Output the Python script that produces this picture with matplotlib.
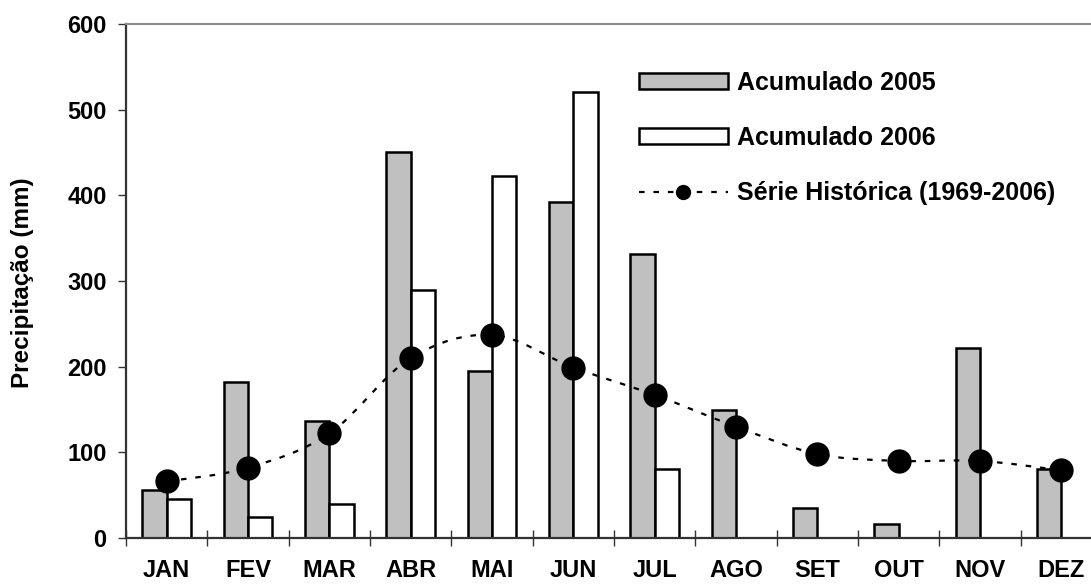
import matplotlib.pyplot as plt
import numpy as np
from matplotlib.lines import Line2D
from matplotlib.patches import Patch, PathPatch
from matplotlib.path import Path

plt.rcParams['font.family'] = ['Liberation Sans', 'DejaVu Sans']
plt.rcParams['font.weight'] = 'bold'

MONTHS = ['JAN', 'FEV', 'MAR', 'ABR', 'MAI', 'JUN',
          'JUL', 'AGO', 'SET', 'OUT', 'NOV', 'DEZ']
ACUM_2005 = [56, 182, 136, 451, 195, 392, 331, 150, 35, 16, 222, 80]
ACUM_2006 = [45, 24, 40, 289, 422, 521, 80, np.nan, np.nan, np.nan, np.nan, np.nan]
HISTORICA = [66, 82, 122, 210, 237, 199, 167, 130, 98, 90, 90, 79]
Y_TICKS = [0, 100, 200, 300, 400, 500, 600]


def smooth_path(xs: np.ndarray, ys: np.ndarray) -> Path:
    # cubic bezier through every point (catmull-rom style control points)
    pts = np.column_stack([xs, ys]).astype(float)
    padded = np.vstack([pts[0], pts, pts[-1]])
    verts = [pts[0]]
    codes = [Path.MOVETO]
    for i in range(len(pts) - 1):
        p0, p1, p2, p3 = padded[i], padded[i + 1], padded[i + 2], padded[i + 3]
        c1 = p1 + (p2 - p0) / 6.0
        c2 = p2 - (p3 - p1) / 6.0
        verts.extend([c1, c2, p2])
        codes.extend([Path.CURVE4] * 3)
    return Path(verts, codes)


W, H = 1091, 586
fig = plt.figure(figsize=(W / 100, H / 100), dpi=100)
ax = fig.add_axes([126 / W, 48 / H, (1102 - 126) / W, (538 - 24) / H])

x = np.arange(len(MONTHS))
bar_w = 0.3
ax.bar(x - bar_w / 2, ACUM_2005, bar_w, color='#c0c0c0',
       edgecolor='black', linewidth=1.8, zorder=2)
ax.bar(x + bar_w / 2, ACUM_2006, bar_w, color='white',
       edgecolor='black', linewidth=1.8, zorder=2)

dash = (0, (2.5, 4))
curve = PathPatch(smooth_path(x, HISTORICA), fill=False, edgecolor='black',
                  linewidth=1.6, linestyle=dash, zorder=3)
ax.add_patch(curve)
ax.plot(x, HISTORICA, 'o', color='black', markersize=16.5, zorder=4)

ax.set_xlim(-0.5, 11.5)
ax.set_ylim(0, 600)

ax.set_yticks(Y_TICKS)
ax.tick_params(axis='y', direction='out', length=6, width=1,
               color='#333333', labelsize=17, pad=8)

ax.set_xticks(x)
ax.set_xticklabels(MONTHS)
ax.set_xticks(np.arange(-0.5, 12, 1), minor=True)
ax.tick_params(axis='x', which='major', length=0, labelsize=17, pad=15)
ax.tick_params(axis='x', which='minor', direction='inout', length=11,
               width=1, color='#333333')

for lbl in ax.get_xticklabels() + ax.get_yticklabels():
    lbl.set_fontweight('bold')

ax.spines['right'].set_visible(False)
ax.spines['top'].set_color('#8c8c8c')
ax.spines['top'].set_linewidth(1.5)
for side in ('left', 'bottom'):
    ax.spines[side].set_color('#333333')
    ax.spines[side].set_linewidth(1.6)

fig.text(23 / W, 1 - 283 / H, 'Precipitação (mm)', rotation=90,
         ha='center', va='center', fontsize=17.5, fontweight='bold')

handles = [
    Patch(facecolor='#c0c0c0', edgecolor='black', linewidth=1.8),
    Patch(facecolor='white', edgecolor='black', linewidth=1.8),
    Line2D([], [], color='black', linewidth=1.6, linestyle=dash,
           marker='o', markersize=10),
]
labels = ['Acumulado 2005', 'Acumulado 2006', 'Série Histórica (1969-2006)']
fig.legend(handles, labels, loc='upper left',
           bbox_to_anchor=(639 / W, 1 - 71 / H), frameon=False,
           prop={'size': 18, 'weight': 'bold'}, handlelength=3.55,
           handleheight=0.6, handletextpad=0.35, labelspacing=1.24,
           borderpad=0, borderaxespad=0, numpoints=1)

fig.savefig('out.png', dpi=100)
